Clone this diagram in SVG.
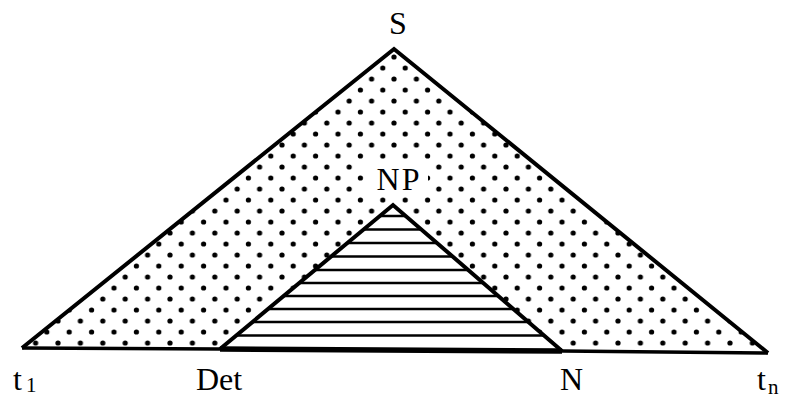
<svg xmlns="http://www.w3.org/2000/svg" width="785" height="399" viewBox="0 0 785 399">
<style>
.lbl{font-family:"Liberation Serif","Times New Roman",serif;font-size:32px;fill:#000}
.sub{font-size:21px}
.edge{fill:none;stroke:#000;stroke-linejoin:miter}
.hatch{stroke:#000;stroke-width:2.5}
</style>
<defs>
<pattern id="dots" patternUnits="userSpaceOnUse" width="22.4" height="22" patternTransform="translate(170,255)">
<circle cx="0" cy="0" r="2.6" fill="#000"/>
<circle cx="22.4" cy="0" r="2.6" fill="#000"/>
<circle cx="0" cy="22" r="2.6" fill="#000"/>
<circle cx="22.4" cy="22" r="2.6" fill="#000"/>
<circle cx="11.2" cy="11" r="2.6" fill="#000"/>
</pattern>
<clipPath id="innerClip"><polygon points="393,205 220,348 562,351"/></clipPath>
</defs>
<rect width="785" height="399" fill="#fff"/>
<g id="S-tree">
<polygon points="394,49 22,348 768,353" fill="url(#dots)"/>
</g>
<g id="NP-tree">
<polygon points="393,205 220,348 562,351" fill="#fff"/>
<g clip-path="url(#innerClip)">
<line class="hatch" x1="200" y1="216" x2="600" y2="216"/>
<line class="hatch" x1="200" y1="229.5" x2="600" y2="229.5"/>
<line class="hatch" x1="200" y1="243" x2="600" y2="243"/>
<line class="hatch" x1="200" y1="256.5" x2="600" y2="256.5"/>
<line class="hatch" x1="200" y1="270" x2="600" y2="270"/>
<line class="hatch" x1="200" y1="283" x2="600" y2="283"/>
<line class="hatch" x1="200" y1="296" x2="600" y2="296"/>
<line class="hatch" x1="200" y1="309" x2="600" y2="309"/>
<line class="hatch" x1="200" y1="322" x2="600" y2="322"/>
<line class="hatch" x1="200" y1="335.5" x2="600" y2="335.5"/>
</g>
</g>
<g id="connectors">
<polyline class="edge" stroke-width="4" points="22,348 394,49 768,353"/>
<line class="edge" stroke-width="3.5" x1="22" y1="348" x2="220" y2="349"/>
<line class="edge" stroke-width="3.5" x1="562" y1="351" x2="768" y2="353"/>
<line class="edge" stroke-width="5.5" x1="220" y1="349" x2="562" y2="351"/>
<polyline class="edge" stroke-width="4" points="220,349 393,205 562,351"/>
</g>
<g id="labels">
<rect x="368" y="160" width="60" height="34" fill="#fff"/>
<text class="lbl" x="398" y="34" text-anchor="middle">S</text>
<text class="lbl" x="399" y="190" text-anchor="middle" letter-spacing="2">NP</text>
<text class="lbl" x="13" y="390">t<tspan class="sub" dx="4" dy="2">1</tspan></text>
<text class="lbl" x="196" y="390">Det</text>
<text class="lbl" x="560" y="390">N</text>
<text class="lbl" x="757" y="390">t<tspan class="sub" dx="2" dy="4">n</tspan></text>
</g>
</svg>
